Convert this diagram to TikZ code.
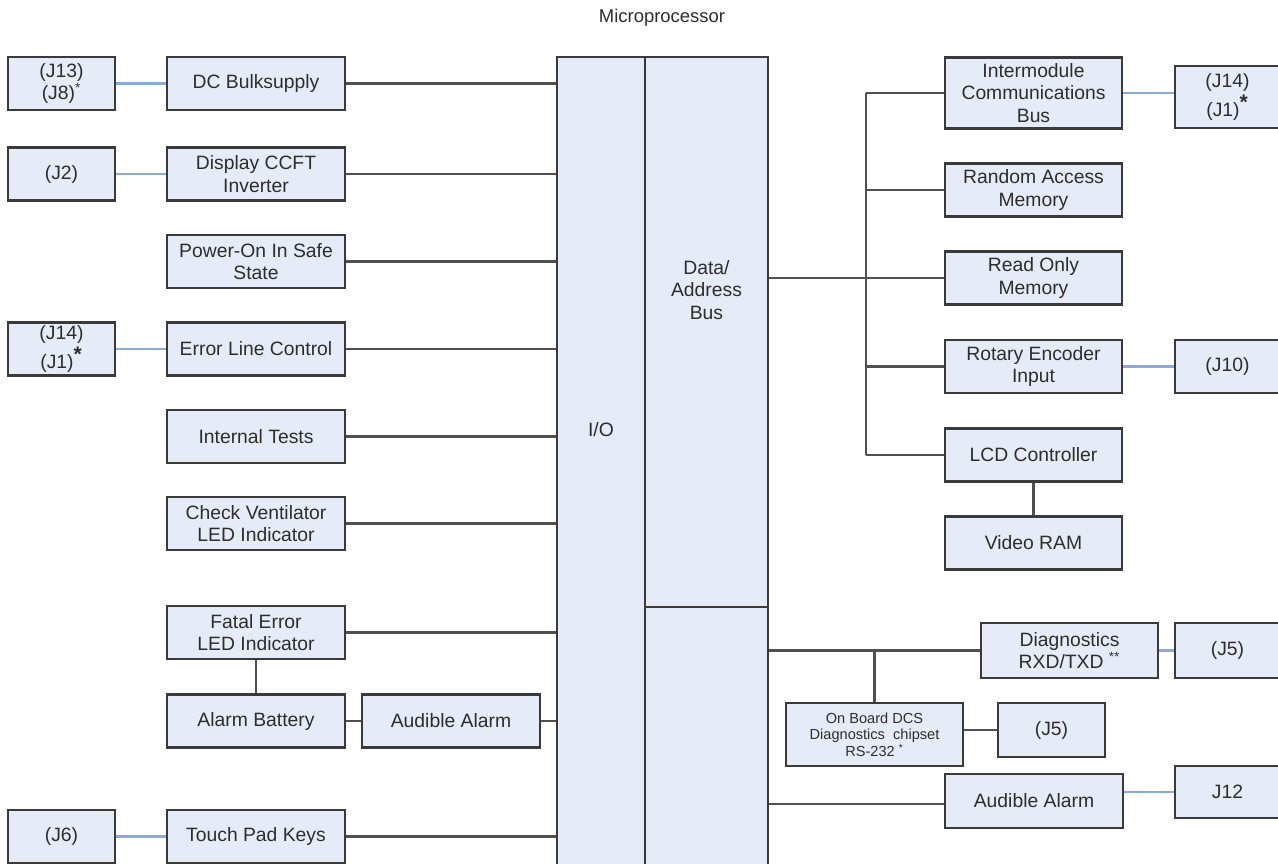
\documentclass[tikz,border=0pt]{standalone}
\usepackage{fontspec}
\setmainfont{Liberation Sans}
\usetikzlibrary{positioning}
\definecolor{Cfill}{RGB}{230,236,247}
\definecolor{Cbdr}{RGB}{58,58,58}
\definecolor{Cwire}{RGB}{80,80,80}
\definecolor{Cblue}{RGB}{138,170,222}
\definecolor{Ctxt}{RGB}{45,45,45}
\tikzset{
  blk/.style={draw=Cbdr, fill=Cfill, line width=1.3pt,
    align=center, inner sep=1pt, text=Ctxt,
    font=\fontsize{11}{12.8}\selectfont},
  Bm/.style={blk, minimum width=3.56cm, minimum height=1.06cm},
  Bj/.style={blk, minimum width=2.14cm, minimum height=1.06cm},
  Bk/.style={blk, minimum width=2.1cm, minimum height=1.06cm},
  ttl/.style={font=\fontsize{10.5}{12}\selectfont, text=Ctxt},
  lbl/.style={font=\fontsize{11}{12.8}\selectfont, text=Ctxt, align=center},
  wire/.style={draw=Cwire, line width=1.3pt},
  link/.style={draw=Cblue, line width=1.3pt}
}

\begin{document}
\begin{tikzpicture}[x=0.02cm, y=-0.02cm]
\useasboundingbox (0,0) rectangle (1278,863);

\node[ttl] (title) at (662,18) {Microprocessor};

% ═══════════════════════════════════════════════════════════════
%  CENTRE  I/O  |  Data/Address Bus  |  lower bus
% ═══════════════════════════════════════════════════════════════
\node[blk, minimum width=1.76cm, minimum height=16.22cm] (io) at (601,462.5) {};
\node[blk, minimum width=2.46cm, minimum height=11.0cm] (dbus) at (706.5,332) {};
\node[blk, minimum width=2.46cm, minimum height=5.22cm] (lbus) at (706.5,737.5) {};
\node[lbl] (iotxt) at (601,430) {I/O};
\node[lbl] (dbtxt) at (706.5,290) {Data/\\Address\\Bus};

% ═══════════════════════════════════════════════════════════════
%  LEFT  connectors x=61.5  |  blocks x=256
% ═══════════════════════════════════════════════════════════════
\node[Bj] (Jbulk)  at (61.5,83.5) {(J13)\\(J8)\textsuperscript{*}};
\node[Bj] (Jccft)  at (61.5,174)  {(J2)};
\node[Bj] (Jerr)   at (61.5,349)  {(J14)\\[1pt](J1)\textsuperscript{\large\textbf{*}}};
\node[Bj] (Jtouch) at (61.5,836.5) {(J6)};

\node[Bm] (Bulk)  at (256,83.5)  {DC Bulksupply};
\node[Bm] (Ccft)  at (256,174)   {Display CCFT\\Inverter};
\node[Bm] (Safe)  at (256,261.5) {Power-On In Safe\\State};
\node[Bm] (Err)   at (256,349)   {Error Line Control};
\node[Bm] (Tests) at (256,436.5) {Internal Tests};
\node[Bm] (Vent)  at (256,523.5) {Check Ventilator\\LED Indicator};
\node[Bm] (Fatal) at (256,632.5) {Fatal Error\\LED Indicator};
\node[Bm] (Batt)  at (256,721)   {Alarm Battery};
\node[Bm] (Touch) at (256,836.5) {Touch Pad Keys};
\node[Bm] (Lalarm) at (451,721)  {Audible Alarm};

\foreach \n in {Bulk,Ccft,Safe,Err,Tests,Vent,Fatal,Touch}
  \draw[wire] (\n.east) -- (\n.east -| io.west);
\draw[wire] (Lalarm.east) -- (Lalarm.east -| io.west);
\draw[wire] (Batt.east) -- (Lalarm.west);
\draw[wire] (Fatal.south) -- (Batt.north);

\draw[link] (Jbulk.east)  -- (Bulk.west);
\draw[link] (Jccft.east)  -- (Ccft.west);
\draw[link] (Jerr.east)   -- (Err.west);
\draw[link] (Jtouch.east) -- (Touch.west);

% ═══════════════════════════════════════════════════════════════
%  RIGHT  trunk x=866  |  blocks x=1033.5  |  connectors x=1227.5
% ═══════════════════════════════════════════════════════════════
\node[Bm, minimum width=3.54cm, minimum height=1.42cm] (Imc) at (1033.5,93)
  {Intermodule\\Communications\\Bus};
\node[Bm, minimum width=3.54cm] (Ram)  at (1033.5,190)   {Random Access\\Memory};
\node[Bm, minimum width=3.54cm] (Rom)  at (1033.5,278)   {Read Only\\Memory};
\node[Bm, minimum width=3.54cm] (Rot)  at (1033.5,366.5) {Rotary Encoder\\Input};
\node[Bm, minimum width=3.54cm] (Lcd)  at (1033.5,455)   {LCD Controller};
\node[Bm, minimum width=3.54cm] (Vram) at (1033.5,543)   {Video RAM};

\node[Bk, minimum height=1.24cm] (Jimc) at (1227.5,97)
  {(J14)\\[1pt](J1)\textsuperscript{\large\textbf{*}}};
\node[Bk] (Jrot) at (1227.5,366.5) {(J10)};

\coordinate (trunk) at (866,278);
\draw[wire] (trunk |- Imc.west) -- (trunk |- Lcd.west);
\draw[wire] (dbus.east |- Rom.west) -- (trunk |- Rom.west);
\foreach \n in {Imc,Ram,Rom,Rot,Lcd}
  \draw[wire] (trunk |- \n.west) -- (\n.west);
\draw[wire] (Lcd.south) -- (Vram.north);

\draw[link] (Imc.east) -- (Imc.east -| Jimc.west);
\draw[link] (Rot.east) -- (Jrot.west);

% ═══════════════════════════════════════════════════════════════
%  LOWER RIGHT  diagnostics and alarm
% ═══════════════════════════════════════════════════════════════
\node[Bm, minimum width=3.54cm, minimum height=1.1cm] (Diag) at (1069.5,650.5)
  {Diagnostics\\RXD/TXD \textsuperscript{**}};
\node[blk, minimum width=3.54cm, minimum height=1.26cm,
      font=\fontsize{8.3}{9.4}\selectfont] (Obd) at (874.5,734.5)
  {On Board DCS\\Diagnostics\ \ chipset\\RS-232 \textsuperscript{*}};
\node[Bj, minimum height=1.08cm] (Jobd) at (1051.5,730) {(J5)};
\node[Bm, minimum height=1.08cm] (Ralarm) at (1034,801) {Audible Alarm};

\node[Bk, minimum height=1.1cm] (Jdiag) at (1227.5,650.5) {(J5)};
\node[Bk, minimum height=1.04cm] (Jalarm) at (1227.5,792) {J12};

\draw[wire] (lbus.east |- Diag.west) -- (Diag.west);
\draw[wire] (Obd.north) -- (Obd.north |- Diag.west);
\draw[wire] (Obd.east |- Jobd.west) -- (Jobd.west);
\draw[wire] (lbus.east |- 0,804) -- (Ralarm.west |- 0,804);

\draw[link] (Diag.east) -- (Jdiag.west);
\draw[link] (Jalarm.west -| Ralarm.east) -- (Jalarm.west);

\end{tikzpicture}
\end{document}
